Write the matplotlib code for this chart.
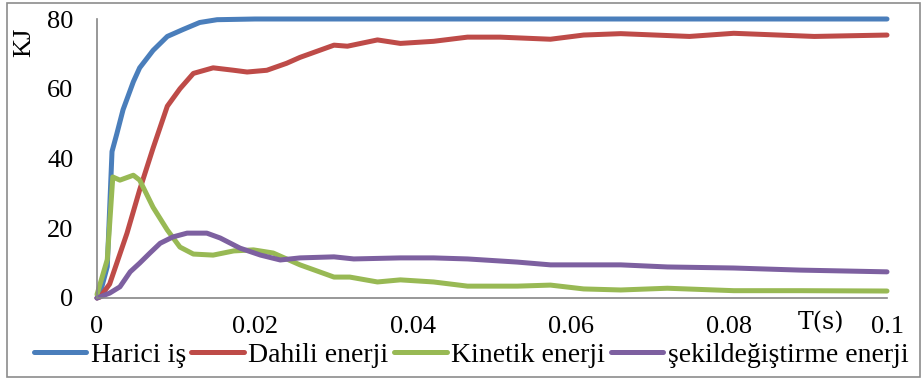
import matplotlib.pyplot as plt
from matplotlib.patches import Rectangle

# time axis (s) and energies (kJ) per curve
t_harici = [0, 0.0004, 0.0013, 0.0019, 0.0025, 0.0033, 0.0046, 0.0054, 0.0071,
            0.0089, 0.0109, 0.013, 0.0152, 0.02, 0.04, 0.06, 0.08, 0.1]
harici = [0, 1.4, 9, 42, 47, 54, 62, 66, 71, 75, 77, 79, 79.8, 80, 80, 80, 80, 80]

t_dahili = [0, 0.0004, 0.0016, 0.0038, 0.0054, 0.0071, 0.0089, 0.0105, 0.0122,
            0.0147, 0.0173, 0.019, 0.0215, 0.024, 0.0257, 0.030, 0.0317, 0.0355,
            0.0384, 0.0426, 0.0469, 0.051, 0.0574, 0.0616, 0.0663, 0.075, 0.0806,
            0.0908, 0.1]
dahili = [0, 0.3, 4, 18.6, 31, 43, 55, 60, 64.4, 66, 65.3, 64.8, 65.3, 67.3, 69,
          72.5, 72.2, 74, 73, 73.6, 74.8, 74.8, 74.2, 75.4, 75.8, 75, 75.9, 75, 75.4]

t_kinetik = [0, 0.0013, 0.002, 0.0029, 0.0046, 0.0054, 0.0071, 0.0089, 0.0105,
             0.0122, 0.0147, 0.0173, 0.0198, 0.0223, 0.0249, 0.0257, 0.030, 0.032,
             0.0355, 0.0384, 0.0426, 0.0469, 0.0532, 0.0574, 0.0616, 0.0663,
             0.0722, 0.0806, 0.089, 0.1]
kinetik = [1, 11, 34.7, 33.8, 35.2, 33.8, 26, 19.5, 14.6, 12.6, 12.3, 13.5, 13.8,
           12.9, 10.3, 9.5, 6, 6, 4.6, 5.2, 4.6, 3.4, 3.4, 3.7, 2.6, 2.3, 2.8, 2.1,
           2.1, 2.0]

t_sekil = [0, 0.0016, 0.0029, 0.0042, 0.0054, 0.0067, 0.008, 0.0096, 0.0114,
           0.0139, 0.0156, 0.0181, 0.0207, 0.0232, 0.0257, 0.030, 0.0325, 0.0384,
           0.0426, 0.0469, 0.0532, 0.0574, 0.0616, 0.0663, 0.0722, 0.0806, 0.089,
           0.1]
sekil = [0, 1.4, 3.2, 7.5, 10, 12.9, 15.7, 17.5, 18.6, 18.6, 17.2, 14.3, 12.3,
         10.9, 11.5, 11.8, 11.2, 11.5, 11.5, 11.2, 10.3, 9.5, 9.5, 9.5, 8.9, 8.6,
         8.0, 7.5]

labels = ['Harici iş', 'Dahili enerji', 'Kinetik enerji', 'şekildeğiştirme enerji']
colors = ['#4A7EBB', '#BE4B48', '#98B954', '#7D60A0']
x_ticks = [0, 0.02, 0.04, 0.06, 0.08, 0.1]
x_tick_labels = ['0', '0.02', '0.04', '0.06', '0.08', '0.1']
y_ticks = [0, 20, 40, 60, 80]

plt.rcParams['font.family'] = ['Liberation Serif', 'DejaVu Serif']

fig = plt.figure(figsize=(9.21, 3.79), dpi=100)
ax = fig.add_axes([97 / 921, 1 - 298 / 379, 790 / 921, 279 / 379])

series = [(t_harici, harici), (t_dahili, dahili), (t_kinetik, kinetik), (t_sekil, sekil)]
for (t, v), lab, c in zip(series, labels, colors):
    ax.plot(t, v, color=c, lw=3.6, label=lab, solid_capstyle='round',
            solid_joinstyle='round', clip_on=False)

ax.set_xlim(0, 0.1)
ax.set_ylim(0, 80)
ax.set_xticks(x_ticks)
ax.set_xticklabels(x_tick_labels)
ax.set_yticks(y_ticks)
ax.tick_params(axis='both', length=0, labelsize=19)
ax.tick_params(axis='x', pad=13)
ax.tick_params(axis='y', pad=17)
for s in ['top', 'right']:
    ax.spines[s].set_visible(False)
for s in ['left', 'bottom']:
    ax.spines[s].set_color('#868686')
    ax.spines[s].set_linewidth(1.2)

fig.text(24 / 921, 1 - 42 / 379, 'KJ', rotation=90, fontsize=19,
         ha='center', va='center')
fig.text(821 / 921, 1 - 323 / 379, 'T(s)', fontsize=17, family='DejaVu Serif',
         ha='center', va='center')

fig.legend(loc='center', bbox_to_anchor=(471 / 921, 1 - 355 / 379), ncol=4,
           frameon=False, fontsize=20, handlelength=1.9, handletextpad=0.15,
           columnspacing=0.2, borderaxespad=0, borderpad=0)

# outer frame
fig.patches.append(Rectangle((7 / 921, 2 / 379), 913 / 921, 374 / 379,
                             transform=fig.transFigure, fill=False,
                             edgecolor='#8c8c8c', lw=1.2))

fig.savefig('out.png', dpi=100)
